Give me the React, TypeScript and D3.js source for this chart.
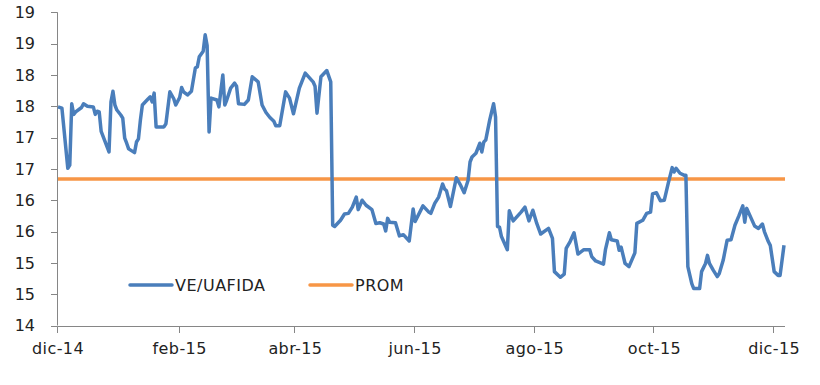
import { useEffect, useRef } from 'react'
import * as d3 from 'd3'

const dates = [
  '2014-12-01', '2014-12-03', '2014-12-06', '2014-12-07', '2014-12-08', '2014-12-09', '2014-12-10', '2014-12-13',
  '2014-12-14', '2014-12-16', '2014-12-19', '2014-12-20', '2014-12-21', '2014-12-22', '2014-12-23', '2014-12-27',
  '2014-12-28', '2014-12-29', '2014-12-30', '2014-12-31', '2015-01-02', '2015-01-03', '2015-01-04', '2015-01-05',
  '2015-01-06', '2015-01-09', '2015-01-10', '2015-01-11', '2015-01-12', '2015-01-13', '2015-01-16', '2015-01-17',
  '2015-01-18', '2015-01-19', '2015-01-20', '2015-01-24', '2015-01-25', '2015-01-27', '2015-01-29', '2015-01-30',
  '2015-02-01', '2015-02-02', '2015-02-03', '2015-02-05', '2015-02-07', '2015-02-09', '2015-02-10', '2015-02-11',
  '2015-02-13', '2015-02-14', '2015-02-15', '2015-02-16', '2015-02-17', '2015-02-20', '2015-02-21', '2015-02-23',
  '2015-02-24', '2015-02-25', '2015-02-27', '2015-03-01', '2015-03-02', '2015-03-03', '2015-03-06', '2015-03-08',
  '2015-03-10', '2015-03-13', '2015-03-15', '2015-03-17', '2015-03-19', '2015-03-21', '2015-03-22', '2015-03-24',
  '2015-03-27', '2015-03-29', '2015-03-31', '2015-04-03', '2015-04-06', '2015-04-10', '2015-04-11', '2015-04-12',
  '2015-04-14', '2015-04-17', '2015-04-19', '2015-04-20', '2015-04-21', '2015-04-24', '2015-04-26', '2015-04-28',
  '2015-04-30', '2015-05-02', '2015-05-03', '2015-05-05', '2015-05-07', '2015-05-10', '2015-05-12', '2015-05-14',
  '2015-05-16', '2015-05-17', '2015-05-18', '2015-05-19', '2015-05-22', '2015-05-24', '2015-05-26', '2015-05-29',
  '2015-05-31', '2015-06-01', '2015-06-05', '2015-06-08', '2015-06-09', '2015-06-11', '2015-06-13', '2015-06-15',
  '2015-06-16', '2015-06-17', '2015-06-19', '2015-06-22', '2015-06-24', '2015-06-26', '2015-06-28', '2015-06-29',
  '2015-06-30', '2015-07-02', '2015-07-04', '2015-07-05', '2015-07-06', '2015-07-07', '2015-07-09', '2015-07-11',
  '2015-07-12', '2015-07-13', '2015-07-14', '2015-07-15', '2015-07-18', '2015-07-19', '2015-07-21', '2015-07-25',
  '2015-07-27', '2015-07-29', '2015-07-31', '2015-08-02', '2015-08-04', '2015-08-08', '2015-08-10', '2015-08-11',
  '2015-08-14', '2015-08-16', '2015-08-17', '2015-08-19', '2015-08-21', '2015-08-23', '2015-08-26', '2015-08-29',
  '2015-08-30', '2015-09-01', '2015-09-05', '2015-09-06', '2015-09-08', '2015-09-09', '2015-09-12', '2015-09-13',
  '2015-09-14', '2015-09-16', '2015-09-18', '2015-09-21', '2015-09-22', '2015-09-25', '2015-09-27', '2015-09-29',
  '2015-09-30', '2015-10-02', '2015-10-04', '2015-10-06', '2015-10-08', '2015-10-10', '2015-10-11', '2015-10-12',
  '2015-10-14', '2015-10-16', '2015-10-17', '2015-10-18', '2015-10-20', '2015-10-21', '2015-10-24', '2015-10-25',
  '2015-10-27', '2015-10-28', '2015-10-29', '2015-10-31', '2015-11-02', '2015-11-03', '2015-11-05', '2015-11-07',
  '2015-11-09', '2015-11-11', '2015-11-13', '2015-11-15', '2015-11-16', '2015-11-17', '2015-11-19', '2015-11-21',
  '2015-11-23', '2015-11-25', '2015-11-26', '2015-11-28', '2015-11-29', '2015-12-01', '2015-12-03', '2015-12-04',
  '2015-12-06',
]

const values = [
  17.49, 17.47, 16.51, 16.56, 17.54, 17.37, 17.41, 17.48,
  17.54, 17.5, 17.49, 17.37, 17.42, 17.41, 17.1, 16.77,
  17.57, 17.74, 17.52, 17.44, 17.36, 17.31, 16.99, 16.91,
  16.82, 16.76, 16.93, 16.98, 17.28, 17.52, 17.62, 17.65,
  17.57, 17.71, 17.17, 17.17, 17.22, 17.73, 17.62, 17.52,
  17.64, 17.8, 17.73, 17.68, 17.74, 18.11, 18.13, 18.29,
  18.38, 18.64, 18.47, 17.09, 17.63, 17.6, 17.49, 18.0,
  17.52, 17.6, 17.79, 17.87, 17.82, 17.54, 17.53, 17.6,
  17.97, 17.89, 17.52, 17.4, 17.32, 17.26, 17.19, 17.19,
  17.73, 17.63, 17.38, 17.79, 18.03, 17.89, 17.82, 17.39,
  17.97, 18.07, 17.89, 15.6, 15.58, 15.68, 15.78, 15.79,
  15.89, 16.05, 15.85, 16.0, 15.92, 15.85, 15.63, 15.64,
  15.62, 15.51, 15.71, 15.65, 15.64, 15.43, 15.45, 15.35,
  15.86, 15.66, 15.91, 15.81, 15.79, 15.95, 16.05, 16.26,
  16.18, 16.15, 15.9, 16.36, 16.25, 16.12, 16.32, 16.61,
  16.69, 16.75, 16.91, 16.77, 16.93, 16.96, 17.28, 17.54,
  17.33, 15.58, 15.57, 15.42, 15.21, 15.83, 15.67, 15.81,
  15.89, 15.67, 15.84, 15.63, 15.46, 15.55, 15.39, 14.86,
  14.77, 14.82, 15.23, 15.34, 15.48, 15.14, 15.21, 15.21,
  15.1, 15.03, 14.98, 15.21, 15.48, 15.37, 15.35, 15.2,
  15.25, 14.99, 14.94, 15.16, 15.63, 15.68, 15.79, 15.81,
  16.1, 16.12, 15.99, 16.0, 16.27, 16.52, 16.45, 16.51,
  16.43, 16.4, 16.4, 14.94, 14.67, 14.59, 14.59, 14.86,
  14.99, 15.12, 14.99, 14.88, 14.78, 14.83, 15.04, 15.36,
  15.37, 15.6, 15.75, 15.91, 15.65, 15.87, 15.73, 15.59,
  15.55, 15.62, 15.5, 15.34, 15.28, 14.86, 14.8, 14.8,
  15.28,
]

const average = 16.34

const xStart = '2014-12-01'
const xEnd = '2015-12-06'
const tickDates = ['2014-12-01', '2015-02-01', '2015-04-01', '2015-06-01', '2015-08-01', '2015-10-01', '2015-12-01']
const tickLabels = ['dic-14', 'feb-15', 'abr-15', 'jun-15', 'ago-15', 'oct-15', 'dic-15']
const yTicks = [14, 14.5, 15, 15.5, 16, 16.5, 17, 17.5, 18, 18.5, 19]
const seriesNames = ['VE/UAFIDA', 'PROM']

const BLUE = '#4a7ebb'
const ORANGE = '#f79646'
const AXIS = '#868686'
const FONT = 'Verdana, "DejaVu Sans", sans-serif'
const FONT_SIZE = 16

export default function App() {
  const svgRef = useRef<SVGSVGElement>(null)

  useEffect(() => {
    if (!svgRef.current) return
    const width = 820
    const height = 385
    const left = 58
    const right = 784
    const top = 12.3
    const bottom = 325.5

    const parse = d3.timeParse('%Y-%m-%d')
    const points = dates.map((d, i) => ({ date: parse(d) as Date, value: values[i] }))

    const x = d3.scaleTime()
      .domain([parse(xStart) as Date, parse(xEnd) as Date])
      .range([left, right])
    const y = d3.scaleLinear()
      .domain([14, 19])
      .range([bottom, top])

    const svg = d3.select(svgRef.current)
    svg.selectAll('*').remove()
    svg.attr('width', width).attr('height', height)

    // axes drawn by hand so they look like the Excel ones
    const yAxis = svg.append('g')
    yAxis.append('line')
      .attr('x1', left - 0.5).attr('x2', left - 0.5)
      .attr('y1', y(19)).attr('y2', y(14))
      .attr('stroke', AXIS)
    yAxis.selectAll('.ytick')
      .data(yTicks)
      .join('line')
      .attr('x1', left - 7).attr('x2', left - 0.5)
      .attr('y1', d => Math.round(y(d)) + 0.5).attr('y2', d => Math.round(y(d)) + 0.5)
      .attr('stroke', AXIS)
    yAxis.selectAll('.ylab')
      .data(yTicks)
      .join('text')
      .attr('x', 35)
      .attr('y', d => y(d))
      .attr('dy', '0.36em')
      .attr('text-anchor', 'end')
      .attr('font-family', FONT)
      .attr('font-size', FONT_SIZE)
      .attr('fill', '#222')
      .text(d => d3.format('.0f')(d))

    const xAxis = svg.append('g')
    xAxis.append('line')
      .attr('x1', left - 0.5).attr('x2', right + 1)
      .attr('y1', Math.round(bottom) + 0.5).attr('y2', Math.round(bottom) + 0.5)
      .attr('stroke', AXIS)
    xAxis.selectAll('.xtick')
      .data(tickDates)
      .join('line')
      .attr('x1', d => Math.round(x(parse(d) as Date)) - 0.5)
      .attr('x2', d => Math.round(x(parse(d) as Date)) - 0.5)
      .attr('y1', Math.round(bottom) + 0.5).attr('y2', Math.round(bottom) + 7)
      .attr('stroke', AXIS)
    xAxis.selectAll('.xlab')
      .data(tickDates)
      .join('text')
      .attr('x', d => x(parse(d) as Date))
      .attr('y', 354)
      .attr('text-anchor', 'middle')
      .attr('font-family', FONT)
      .attr('font-size', FONT_SIZE)
      .attr('letter-spacing', 0.4)
      .attr('fill', '#222')
      .text((_, i) => tickLabels[i])

    // average line
    svg.append('line')
      .attr('x1', left).attr('x2', right + 1)
      .attr('y1', y(average)).attr('y2', y(average))
      .attr('stroke', ORANGE)
      .attr('stroke-width', 3.5)

    const line = d3.line<{ date: Date; value: number }>()
      .x(d => x(d.date))
      .y(d => y(d.value))

    svg.append('path')
      .datum(points)
      .attr('d', line)
      .attr('fill', 'none')
      .attr('stroke', BLUE)
      .attr('stroke-width', 3.5)
      .attr('stroke-linejoin', 'round')

    // legend
    const legend = svg.append('g')
    const legendItems = [
      { name: seriesNames[0], color: BLUE, x0: 130 },
      { name: seriesNames[1], color: ORANGE, x0: 310 },
    ]
    legendItems.forEach(item => {
      legend.append('line')
        .attr('x1', item.x0).attr('x2', item.x0 + 42)
        .attr('y1', 285).attr('y2', 285)
        .attr('stroke', item.color)
        .attr('stroke-width', 3.5)
        .attr('stroke-linecap', 'round')
      legend.append('text')
        .attr('x', item.x0 + 45)
        .attr('y', 285)
        .attr('dy', '0.36em')
        .attr('font-family', FONT)
        .attr('font-size', FONT_SIZE)
        .attr('letter-spacing', 0.5)
        .attr('fill', '#222')
        .text(item.name)
    })
  }, [])

  return (
    <div style={{ position: 'absolute', left: 0, top: 0, background: '#fff' }}>
      <svg ref={svgRef} style={{ display: 'block' }} />
    </div>
  )
}
